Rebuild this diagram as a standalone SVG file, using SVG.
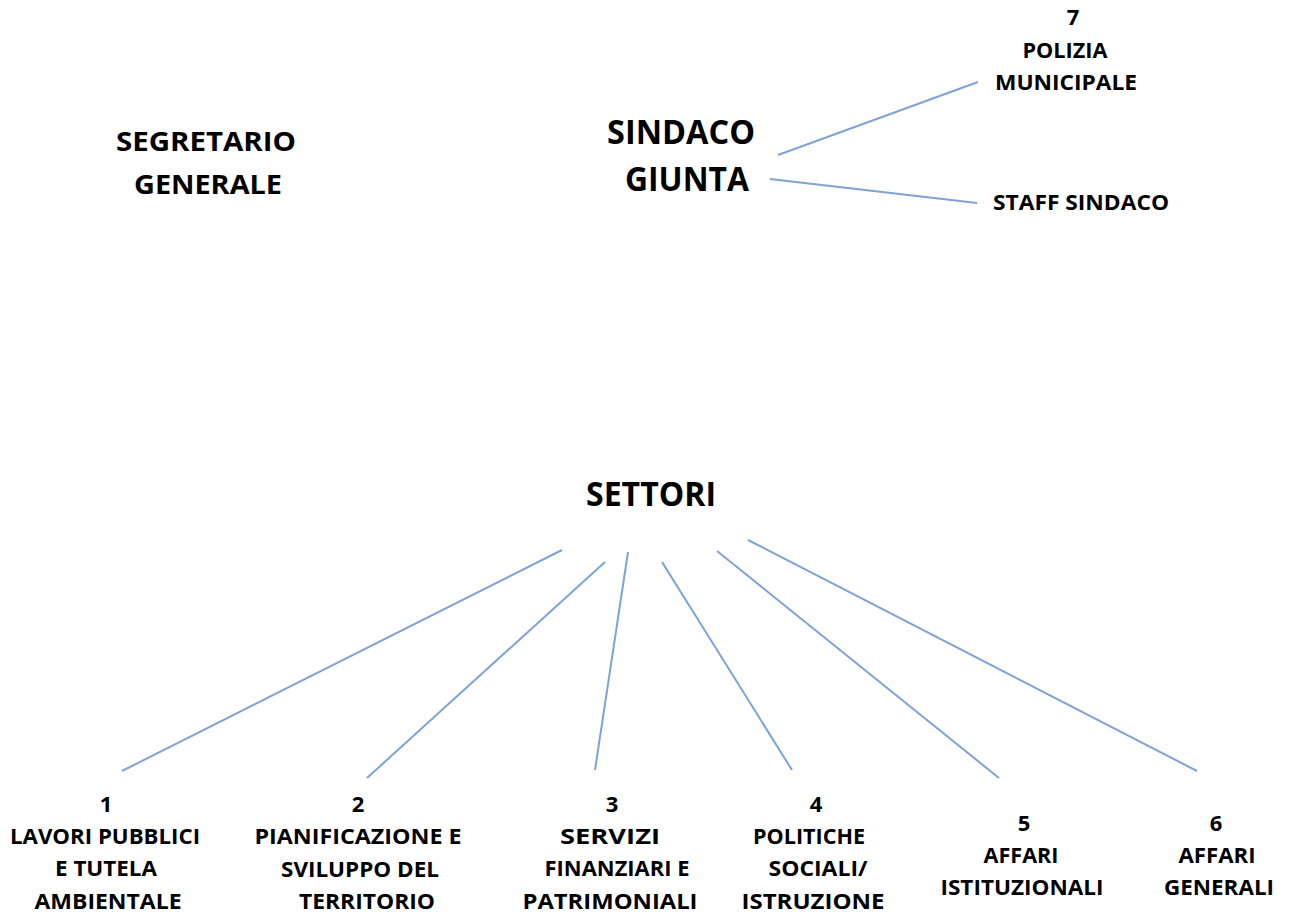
<svg xmlns="http://www.w3.org/2000/svg" width="1289" height="915" viewBox="0 0 1289 915">
<style>
text{font-family:"Open Sans","Liberation Sans",sans-serif;font-weight:700;fill:#000;text-anchor:middle}
.big{font-size:34px}
.mid{font-size:27px}
.sm{font-size:22px}
.conn line{stroke:#7ea3d5;stroke-width:2;fill:none}
</style>
<rect width="1289" height="915" fill="#fff"/>
<g id="segretario">
<text class="mid" x="206" y="151" textLength="180" lengthAdjust="spacingAndGlyphs">SEGRETARIO</text>
<text class="mid" x="208" y="194" textLength="148" lengthAdjust="spacingAndGlyphs">GENERALE</text>
</g>
<g id="sindaco">
<text class="big" x="681" y="144" textLength="148" lengthAdjust="spacingAndGlyphs">SINDACO</text>
<text class="big" x="687" y="191" textLength="124" lengthAdjust="spacingAndGlyphs">GIUNTA</text>
</g>
<g id="polizia">
<text class="sm" x="1073" y="25">7</text>
<text class="sm" x="1065" y="58" textLength="85" lengthAdjust="spacingAndGlyphs">POLIZIA</text>
<text class="sm" x="1066" y="90" textLength="142" lengthAdjust="spacingAndGlyphs">MUNICIPALE</text>
</g>
<g id="staff">
<text class="sm" x="1081" y="210" textLength="176" lengthAdjust="spacingAndGlyphs">STAFF SINDACO</text>
</g>
<g id="settori">
<text class="big" x="651" y="506" textLength="130" lengthAdjust="spacingAndGlyphs">SETTORI</text>
</g>
<g id="s1">
<text class="sm" x="106" y="812">1</text>
<text class="sm" x="105" y="844" textLength="190" lengthAdjust="spacingAndGlyphs">LAVORI PUBBLICI</text>
<text class="sm" x="106" y="876" textLength="102" lengthAdjust="spacingAndGlyphs">E TUTELA</text>
<text class="sm" x="108" y="909" textLength="147" lengthAdjust="spacingAndGlyphs">AMBIENTALE</text>
</g>
<g id="s2">
<text class="sm" x="358" y="812">2</text>
<text class="sm" x="358" y="844" textLength="207" lengthAdjust="spacingAndGlyphs">PIANIFICAZIONE  E</text>
<text class="sm" x="360" y="877" textLength="158" lengthAdjust="spacingAndGlyphs">SVILUPPO DEL</text>
<text class="sm" x="367" y="909" textLength="136" lengthAdjust="spacingAndGlyphs">TERRITORIO</text>
</g>
<g id="s3">
<text class="sm" x="612" y="812">3</text>
<text class="sm" x="610" y="844" textLength="100" lengthAdjust="spacingAndGlyphs">SERVIZI</text>
<text class="sm" x="617" y="876" textLength="145" lengthAdjust="spacingAndGlyphs">FINANZIARI E</text>
<text class="sm" x="610" y="909" textLength="175" lengthAdjust="spacingAndGlyphs">PATRIMONIALI</text>
</g>
<g id="s4">
<text class="sm" x="816" y="812">4</text>
<text class="sm" x="809" y="844" textLength="112" lengthAdjust="spacingAndGlyphs">POLITICHE</text>
<text class="sm" x="818" y="876" textLength="99" lengthAdjust="spacingAndGlyphs">SOCIALI/</text>
<text class="sm" x="813" y="909" textLength="143" lengthAdjust="spacingAndGlyphs">ISTRUZIONE</text>
</g>
<g id="s5">
<text class="sm" x="1024" y="831">5</text>
<text class="sm" x="1021" y="863" textLength="75" lengthAdjust="spacingAndGlyphs">AFFARI</text>
<text class="sm" x="1022" y="895" textLength="163" lengthAdjust="spacingAndGlyphs">ISTITUZIONALI</text>
</g>
<g id="s6">
<text class="sm" x="1216" y="831">6</text>
<text class="sm" x="1217" y="863" textLength="77" lengthAdjust="spacingAndGlyphs">AFFARI</text>
<text class="sm" x="1219" y="895" textLength="110" lengthAdjust="spacingAndGlyphs">GENERALI</text>
</g>
<g id="connectors" class="conn">
<line x1="778" y1="155" x2="978" y2="82"/>
<line x1="770" y1="179" x2="977" y2="203"/>
<line x1="562" y1="550" x2="122" y2="771"/>
<line x1="605" y1="562" x2="367" y2="778"/>
<line x1="628" y1="552" x2="595" y2="770"/>
<line x1="662" y1="562" x2="792" y2="770"/>
<line x1="717" y1="551" x2="999" y2="778"/>
<line x1="748" y1="540" x2="1197" y2="771"/>
</g>
</svg>
